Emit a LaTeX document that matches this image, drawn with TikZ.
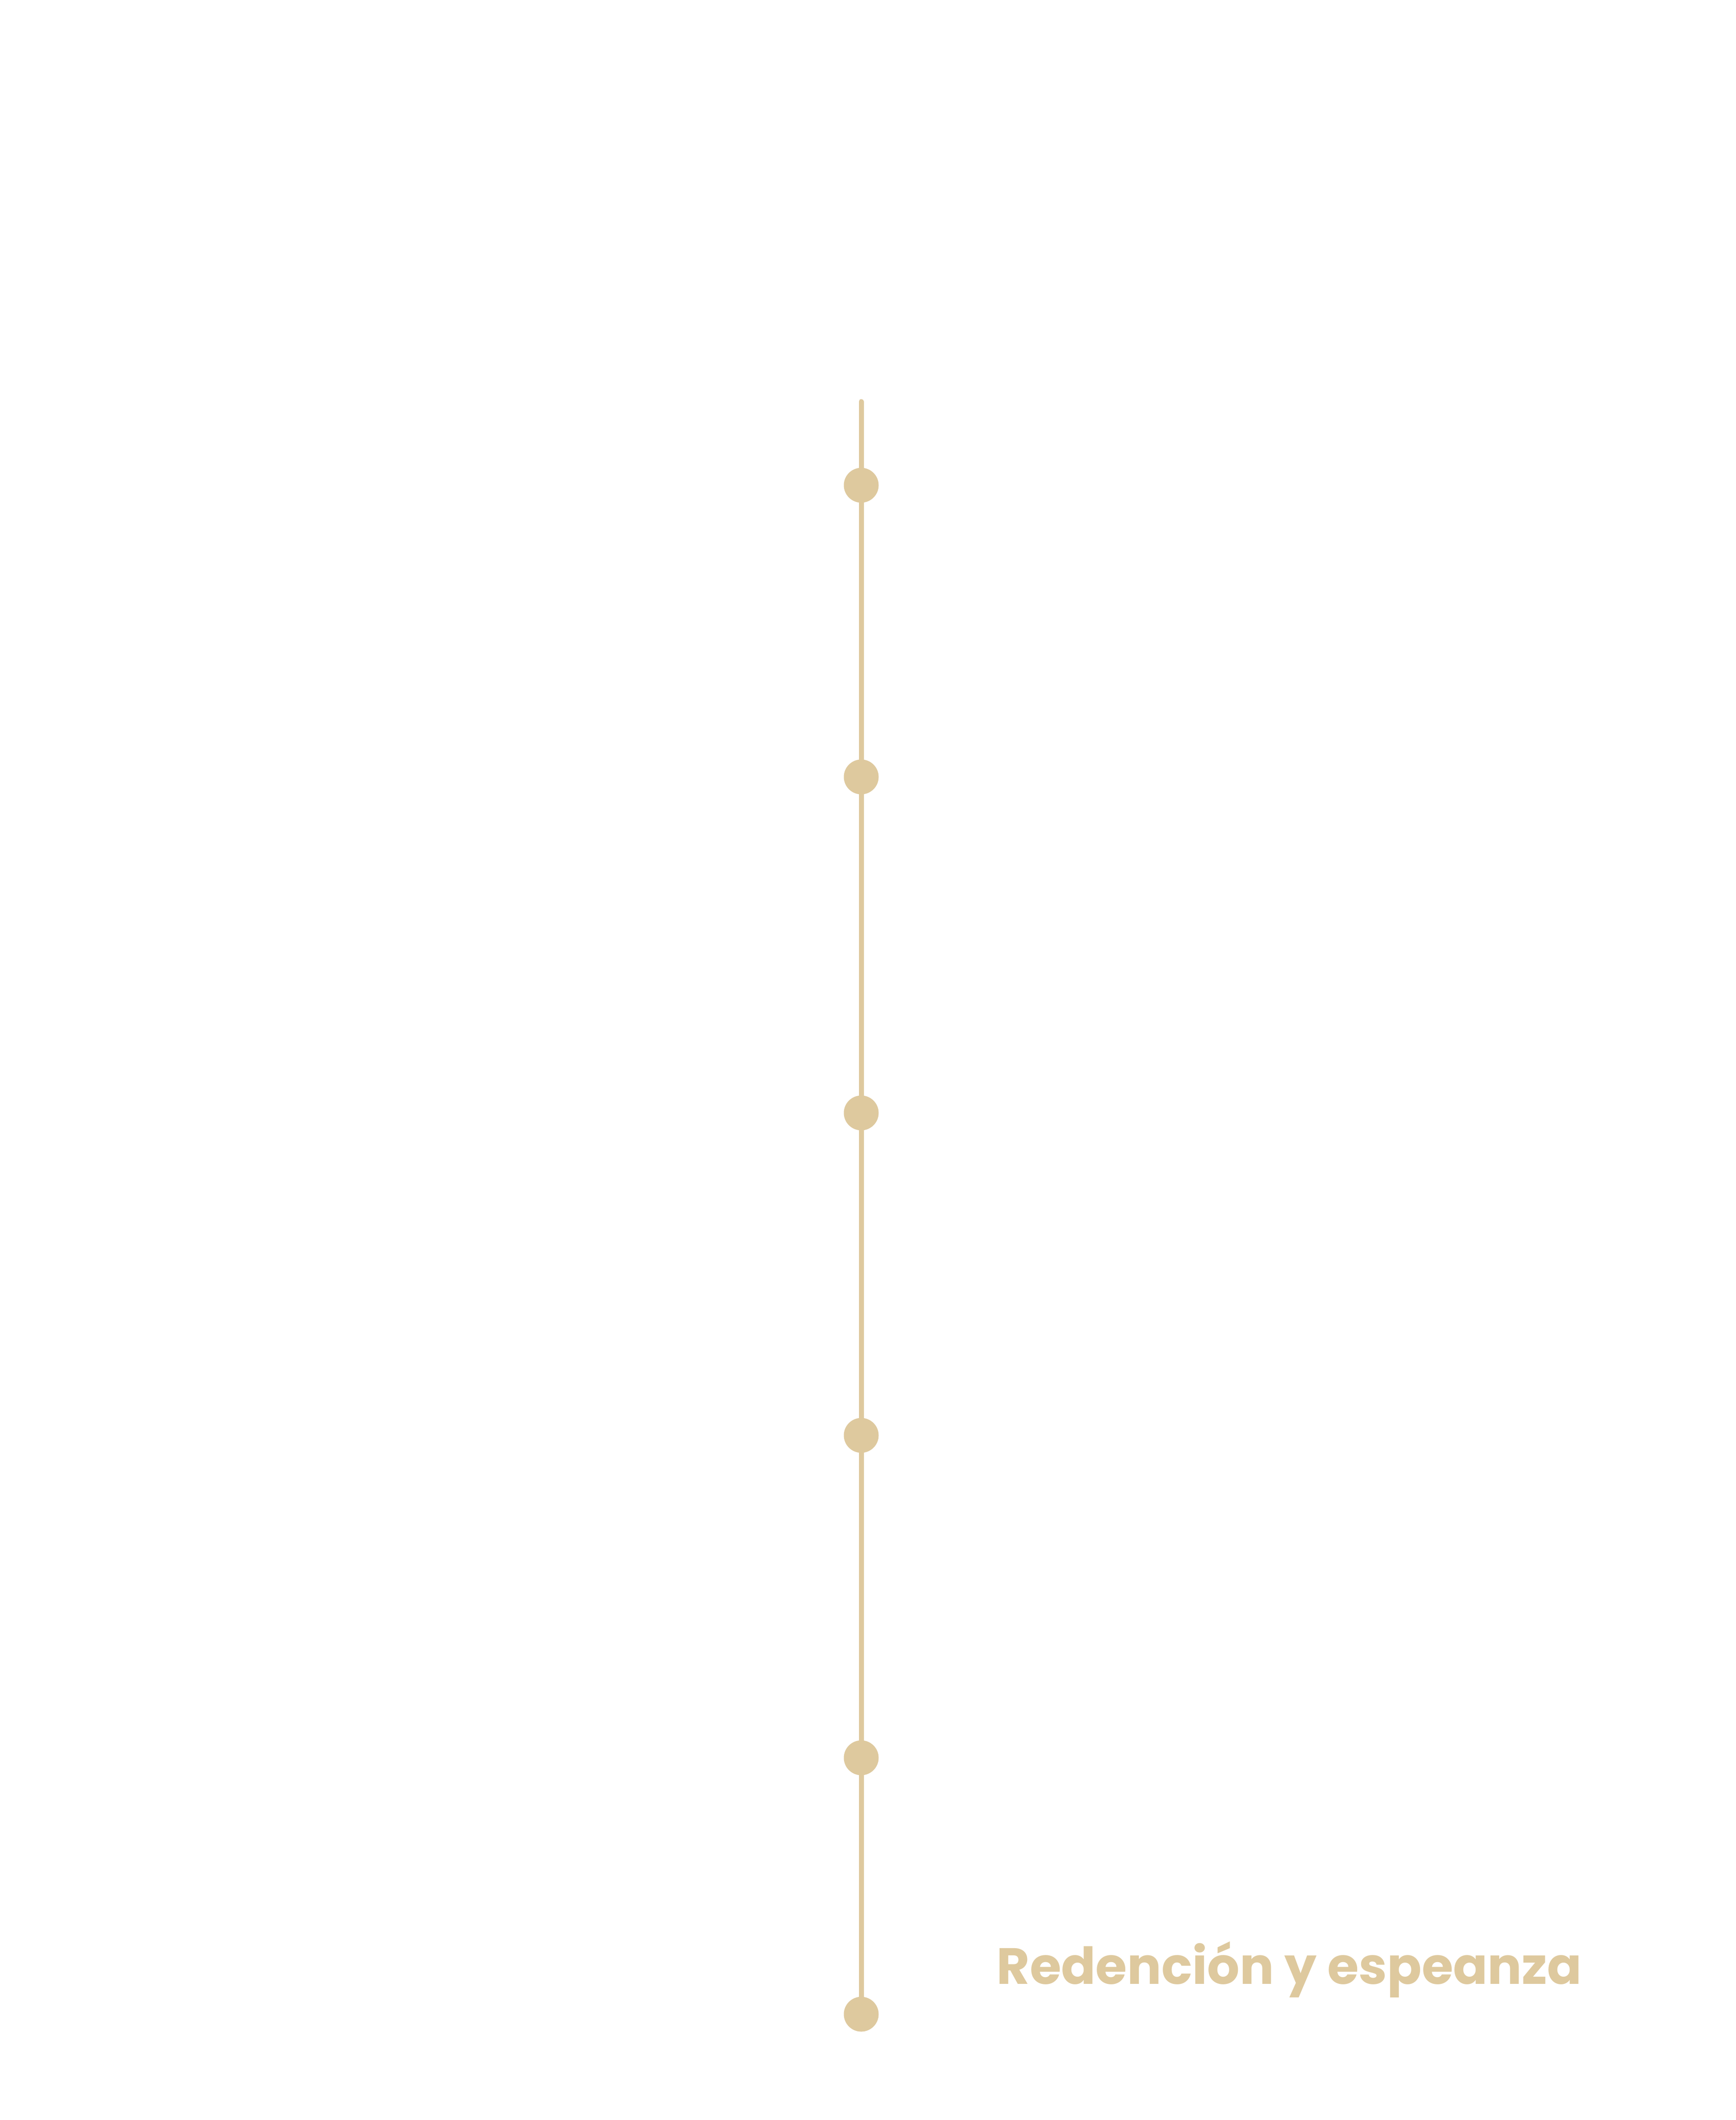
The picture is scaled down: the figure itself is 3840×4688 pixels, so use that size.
\documentclass[tikz,border=0pt]{standalone}
\usepackage{fontspec}
\setmainfont{Poppins}
\usepackage{graphicx}
\definecolor{gold}{RGB}{222,201,158}
\begin{document}
\begin{tikzpicture}[x=0.25pt,y=-0.25pt,
  dot/.style={circle,fill=gold,draw=none,minimum size=19.25pt,inner sep=0pt},
  spine/.style={draw=gold,line width=2.75pt,line cap=round},
  title/.style={anchor=base west,inner sep=0pt,text=gold,font=\bfseries}]
\fill[white] (0,0) rectangle (3840,4688);
\useasboundingbox (0,0) rectangle (3840,4688);
\coordinate (top) at (1905,888);
\coordinate (bottom) at (1905,4454);
\draw[spine] (top) -- (bottom);
\node[dot] (d1) at (1905,1073) {};
\node[dot] (d2) at (1905,1718) {};
\node[dot] (d3) at (1905,2461) {};
\node[dot] (d4) at (1905,3174) {};
\node[dot] (d5) at (1905,3887) {};
\node[dot] (d6) at (1905,4454) {};
\node[title] (t) at (2204,4387) {\resizebox{323.5pt}{23.5pt}{Redención y espeanza}};
\end{tikzpicture}
\end{document}
